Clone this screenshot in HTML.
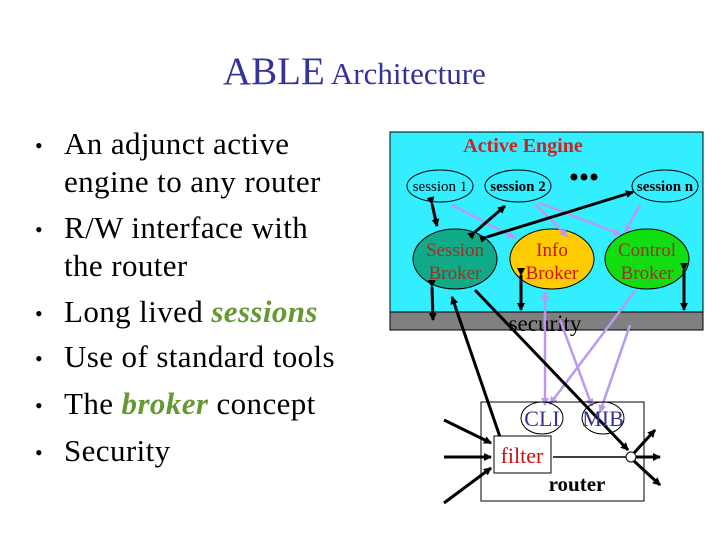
<!DOCTYPE html>
<html><head><meta charset="utf-8"><style>
html,body{margin:0;padding:0;background:#fff;width:720px;height:540px;overflow:hidden;font-family:"Liberation Serif",serif;}
.t{position:absolute;white-space:nowrap;font-size:31px;letter-spacing:0.4px;}
.b{position:absolute;left:35px;font-size:22px;line-height:1;}
.i{color:#669933;font-style:italic;font-weight:bold;}
</style></head><body>
<div class="t" style="left:223px;top:49px;color:#333399;letter-spacing:0;"><span style="font-size:39px;">ABLE</span> <span style="font-size:31px;">Architecture</span></div>
<div class="b" style="top:135px;">•</div><div class="t" style="left:64px;top:126px;">An adjunct active</div>
<div class="t" style="left:64px;top:164px;">engine to any router</div>
<div class="b" style="top:219px;">•</div><div class="t" style="left:64px;top:210px;">R/W interface with</div>
<div class="t" style="left:64px;top:248px;">the router</div>
<div class="b" style="top:303px;">•</div><div class="t" style="left:64px;top:294px;">Long lived <span class="i">sessions</span></div>
<div class="b" style="top:348px;">•</div><div class="t" style="left:64px;top:339px;">Use of standard tools</div>
<div class="b" style="top:395px;">•</div><div class="t" style="left:64px;top:386px;">The <span class="i">broker</span> concept</div>
<div class="b" style="top:442px;">•</div><div class="t" style="left:64px;top:433px;">Security</div>

<svg width="720" height="540" style="position:absolute;left:0;top:0" xmlns="http://www.w3.org/2000/svg">
<defs>
<marker id="a" markerWidth="8" markerHeight="8" refX="7" refY="4" orient="auto" markerUnits="userSpaceOnUse"><path d="M0,0L8,4L0,8z" fill="#000"/></marker>
<marker id="l" markerWidth="8" markerHeight="8" refX="7" refY="4" orient="auto" markerUnits="userSpaceOnUse"><path d="M0,0L8,4L0,8z" fill="#bb99ee"/></marker>
</defs>
<rect x="390" y="132" width="313" height="180" fill="#33eeff" stroke="#000"/>
<rect x="390" y="312" width="313" height="18" fill="#808080" stroke="#000"/>
<text x="545" y="331" font-size="23" text-anchor="middle" font-family="Liberation Serif">security</text>
<text x="523" y="152" font-size="20" font-weight="bold" fill="#cc2222" text-anchor="middle" font-family="Liberation Serif">Active Engine</text>
<g stroke="#000" fill="#33eeff">
<ellipse cx="440" cy="186" rx="33" ry="16"/><ellipse cx="518" cy="186" rx="33" ry="16"/><ellipse cx="665" cy="186" rx="33" ry="16"/>
<ellipse cx="455" cy="259" rx="42" ry="30" fill="#11aa88"/><ellipse cx="552" cy="259" rx="42" ry="30" fill="#ffcc00"/><ellipse cx="647" cy="259" rx="42" ry="30" fill="#11dd11"/>
</g>
<circle cx="574" cy="177" r="3.5"/><circle cx="584" cy="177" r="3.5"/><circle cx="594" cy="177" r="3.5"/>
<g font-family="Liberation Serif" text-anchor="middle" font-size="15">
<text x="440" y="191">session 1</text><text x="518" y="191" font-weight="bold">session 2</text><text x="665" y="191" font-weight="bold">session n</text>
</g>
<g font-family="Liberation Serif" text-anchor="middle" font-size="19" fill="#993322">
<text x="455" y="256">Session</text><text x="455" y="279">Broker</text>
<text x="552" y="256" fill="#cc1111">Info</text><text x="552" y="279" fill="#cc1111">Broker</text>
<text x="647" y="256">Control</text><text x="647" y="279">Broker</text>
</g>
<g stroke="#bb99ee" stroke-width="2.5" fill="none" marker-end="url(#l)">
<line x1="452" y1="205" x2="515" y2="238"/>
<line x1="535" y1="204" x2="567" y2="236"/>
<line x1="540" y1="203" x2="620" y2="234"/>
<line x1="640" y1="205" x2="625" y2="232"/>
<line x1="545" y1="330" x2="545" y2="405"/>
<line x1="635" y1="291" x2="550" y2="404"/>
<line x1="560" y1="320" x2="592" y2="406"/>
<line x1="630" y1="325" x2="600" y2="412"/>
<line x1="545" y1="330" x2="545" y2="292"/>
</g>
<g stroke="#000" stroke-width="3" fill="none">
<line x1="432" y1="204" x2="437" y2="226" marker-end="url(#a)" marker-start="url(#a)"/>
<line x1="475" y1="232" x2="505" y2="206" marker-end="url(#a)" marker-start="url(#a)"/>
<line x1="487" y1="237" x2="633" y2="192" marker-end="url(#a)" marker-start="url(#a)"/>
<line x1="432" y1="287" x2="433" y2="320" marker-end="url(#a)" marker-start="url(#a)"/>
<line x1="521" y1="275" x2="521" y2="310" marker-end="url(#a)" marker-start="url(#a)"/>
<line x1="684" y1="270" x2="684" y2="310" marker-end="url(#a)" marker-start="url(#a)"/>
<line x1="500" y1="437" x2="452" y2="297" marker-end="url(#a)"/>
<line x1="475" y1="290" x2="628" y2="450" marker-end="url(#a)"/>
<line x1="444" y1="420" x2="491" y2="443" marker-end="url(#a)"/>
<line x1="444" y1="457" x2="491" y2="457" marker-end="url(#a)"/>
<line x1="444" y1="503" x2="491" y2="468" marker-end="url(#a)"/>
<line x1="634" y1="453" x2="655" y2="430" marker-end="url(#a)"/>
<line x1="636" y1="457" x2="660" y2="457" marker-end="url(#a)"/>
<line x1="634" y1="461" x2="660" y2="485" marker-end="url(#a)"/>
</g>
<rect x="481" y="402" width="163" height="99" fill="none" stroke="#000"/>
<ellipse cx="542" cy="418" rx="21" ry="16" fill="none" stroke="#000"/>
<ellipse cx="603" cy="418" rx="21" ry="16" fill="none" stroke="#000"/>
<line x1="553" y1="457" x2="626" y2="457" stroke="#000" stroke-width="1.5"/>
<circle cx="631" cy="457" r="5" fill="#fff" stroke="#000"/>
<rect x="494" y="436" width="57" height="37" fill="#fff" stroke="#000"/>
<g font-family="Liberation Serif" text-anchor="middle">
<text x="542" y="426" font-size="22" fill="#333399">CLI</text>
<text x="603" y="426" font-size="22" fill="#333399">MIB</text>
<text x="522" y="463" font-size="22" fill="#cc1111">filter</text>
<text x="577" y="491" font-size="21" font-weight="bold">router</text>
</g>
</svg>
</body></html>
